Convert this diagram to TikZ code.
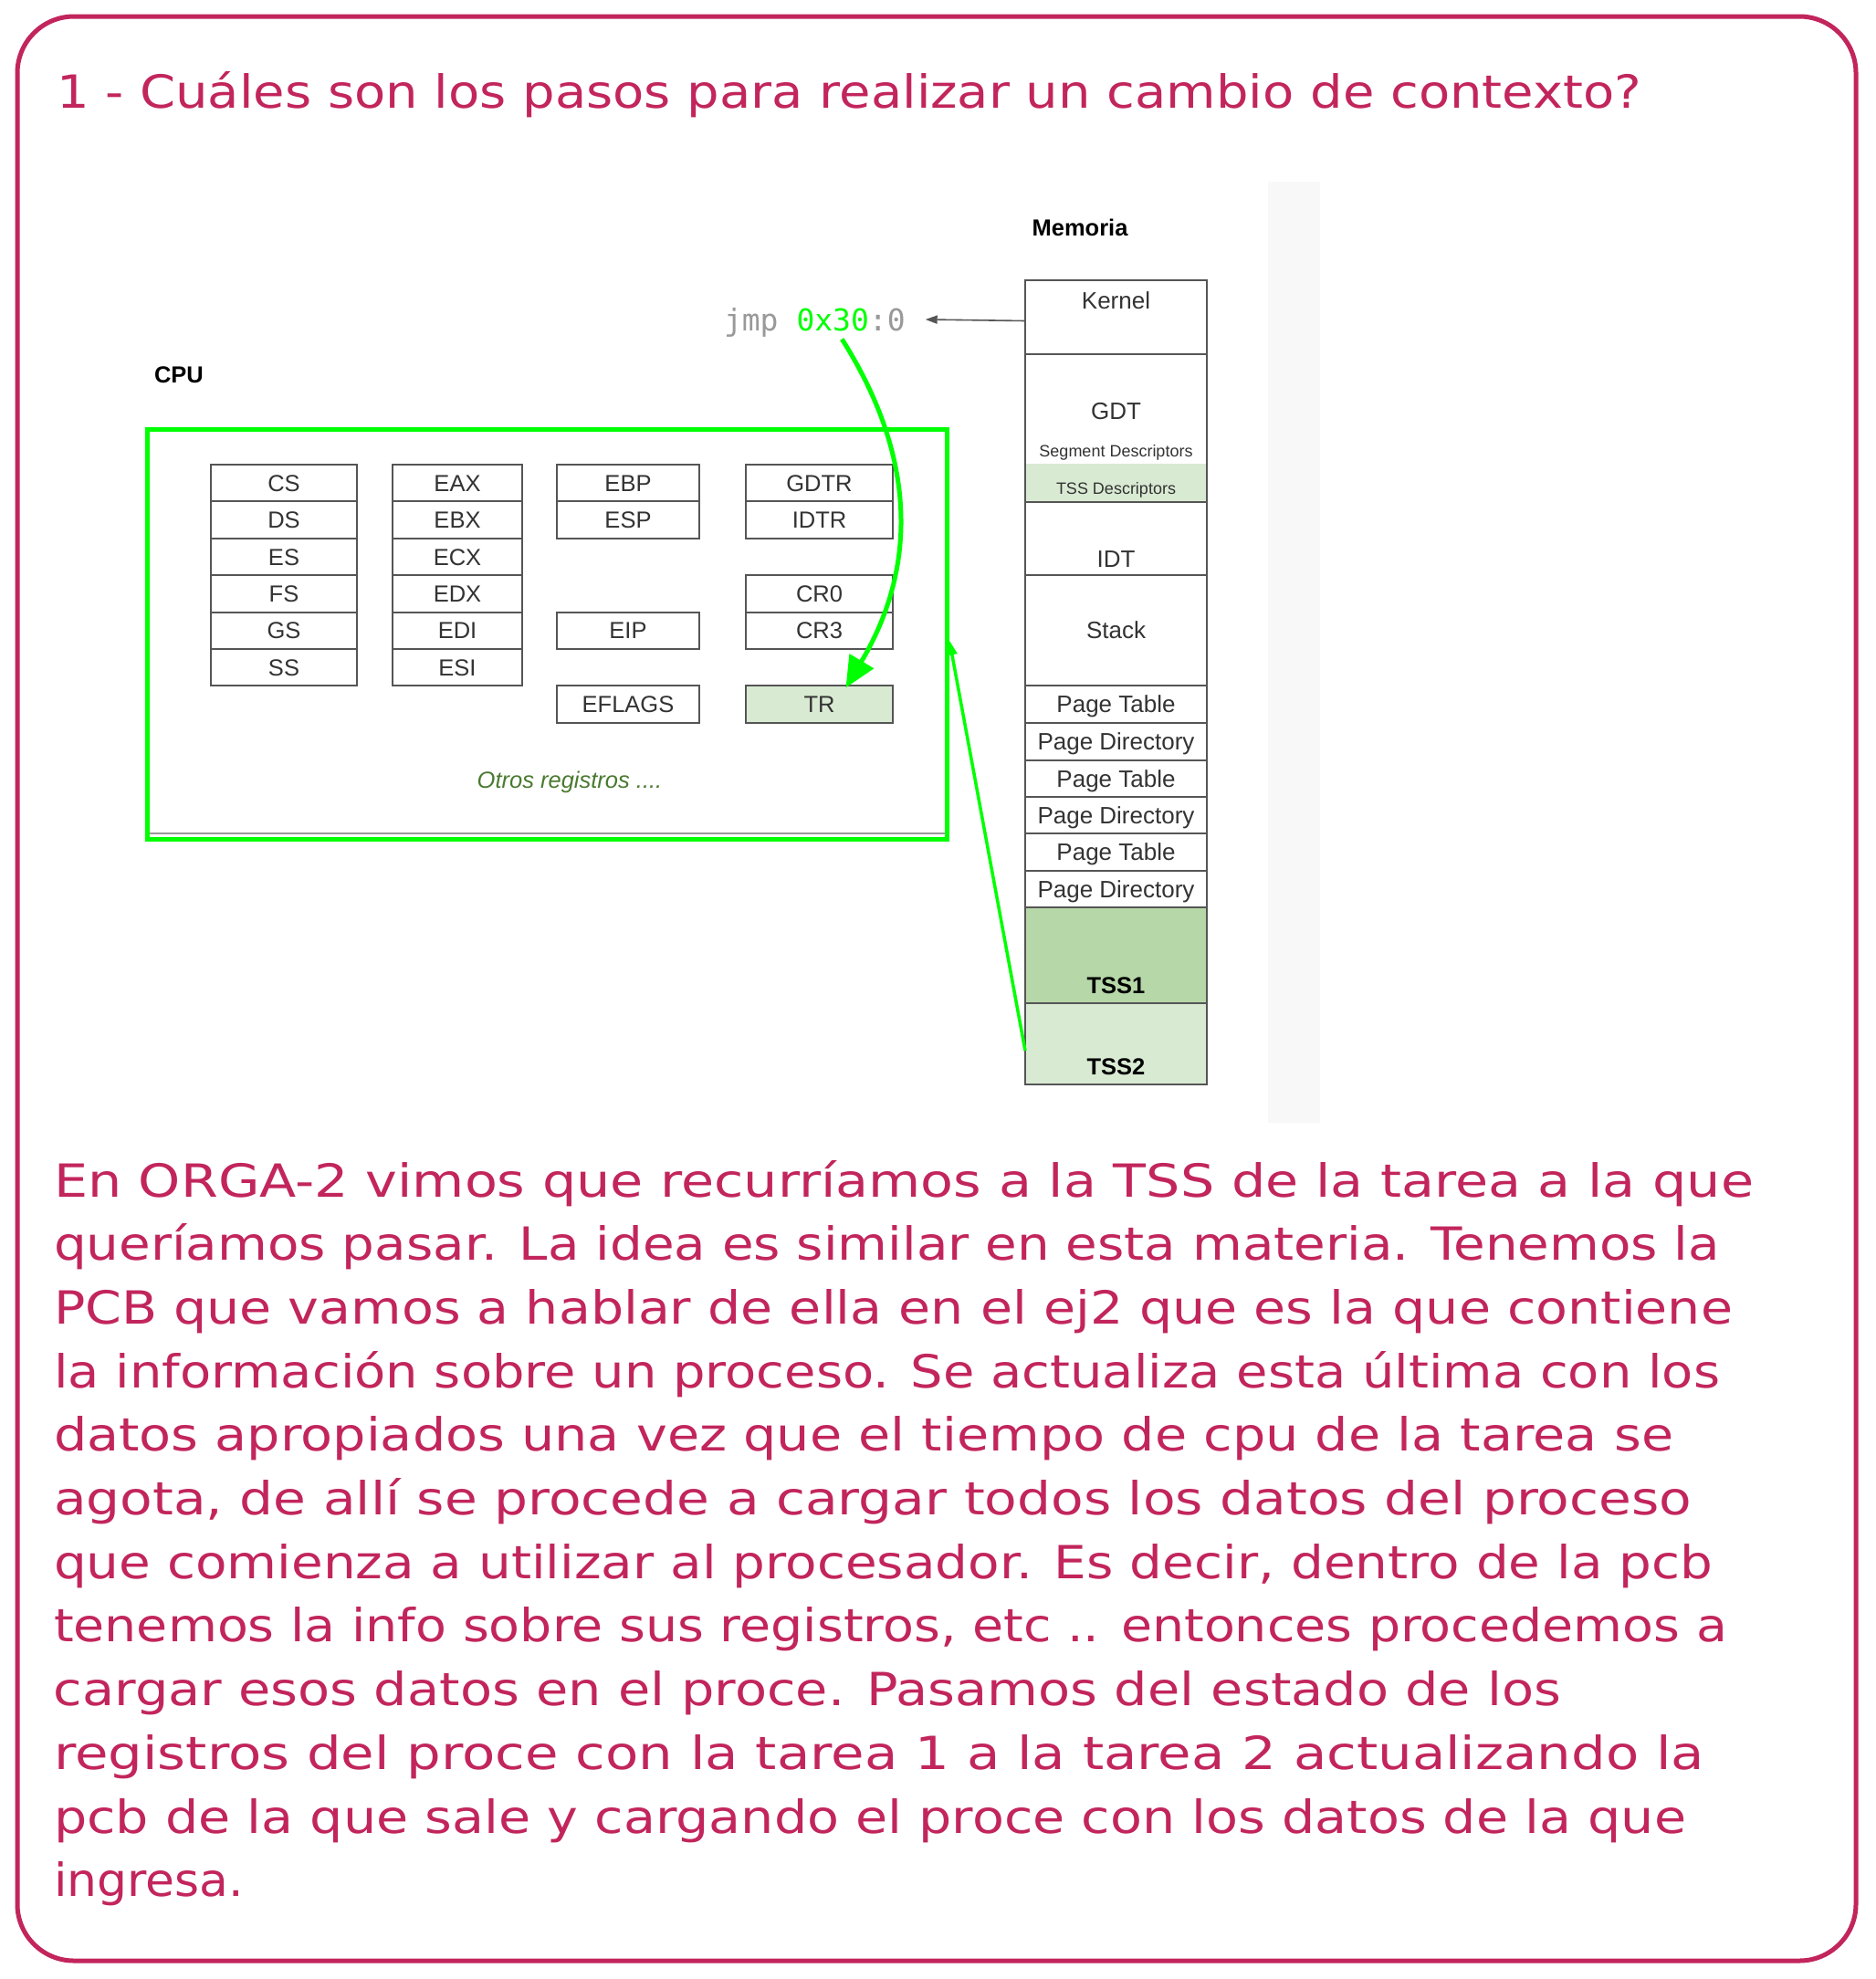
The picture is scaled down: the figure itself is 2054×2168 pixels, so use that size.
\documentclass[tikz,border=0pt]{standalone}
\usepackage{fontspec}
\usepackage{graphicx}
\usetikzlibrary{arrows.meta}
\newfontfamily\arialf{Liberation Sans}
\newfontfamily\monof{DejaVu Sans Mono}
\newfontfamily\handf{DejaVu Sans}
\definecolor{pinkc}{HTML}{C2255C}
\definecolor{limec}{HTML}{00FF00}
\definecolor{boxc}{HTML}{555555}
\definecolor{txtc}{HTML}{333333}
\definecolor{tssa}{HTML}{B6D7A8}
\definecolor{tssb}{HTML}{D9EAD3}
\definecolor{otrosc}{HTML}{4A7A30}
\definecolor{jmpc}{HTML}{999999}
\definecolor{colc}{HTML}{F8F8F8}
\newcommand\hfit[2]{\resizebox{#1pt}{\height}{#2}}
\begin{document}
\begin{tikzpicture}[x=1pt,y=-1pt,
  every node/.style={outer sep=0pt},
  reg/.style={draw=boxc, line width=2pt, minimum height=40.4pt, inner sep=0pt,
    font=\arialf\fontsize{25.5}{30}\selectfont, text=txtc, text height=18pt, text depth=0pt},
  regA/.style={reg, minimum width=160pt},
  regB/.style={reg, minimum width=142pt},
  regC/.style={reg, minimum width=156pt},
  regD/.style={reg, minimum width=161pt},
  mem/.style={draw=boxc, line width=2.5pt, minimum width=199pt, inner sep=0pt, text=txtc,
    font=\arialf\fontsize{26}{30}\selectfont, text height=18.6pt, text depth=0pt},
  memtxt/.style={inner sep=0pt, text=txtc, font=\arialf\fontsize{26}{30}\selectfont,
    text height=18.6pt, text depth=0pt},
  smalltxt/.style={inner sep=0pt, text=txtc, font=\arialf\fontsize{18}{22}\selectfont,
    text height=13pt, text depth=0pt},
  boldtxt/.style={inner sep=0pt, text=black, font=\arialf\bfseries\fontsize{25.5}{30}\selectfont},
  monotxt/.style={inner sep=0pt, font=\monof\fontsize{33}{40}\selectfont},
  handtxt/.style={inner sep=0pt, text=pinkc, font=\handf\fontsize{50}{60}\selectfont, anchor=base west},
]
\useasboundingbox (0,0) rectangle (2054,2168);
\fill[white] (0,0) rectangle (2054,2168);

% outer frame
\draw[pinkc, line width=5pt, rounded corners=62pt] (19,18) rectangle (2033,2148);

% title
\node[handtxt] (title) at (62,118) {\hfit{1736}{1 - Cuáles son los pasos para realizar un cambio de contexto?}};

% light column of the embedded picture
\fill[colc] (1389,199) rectangle (1446,1230);

% labels
\node[boldtxt, anchor=base west] (cpulabel) at (169,419) {CPU};
\node[boldtxt, anchor=base] (memlabel) at (1183,258) {Memoria};

% CPU box
\draw[jmpc, line width=2.5pt] (164,913) -- (1035,913);
\node[draw=limec, line width=5pt, minimum width=875.8pt, minimum height=449pt, inner sep=0pt] (cpu) at (599.6,694.5) {};

% registers
\node[regA] (cs) at (311,529.2) {CS};
\node[regA] (ds) at (311,569.6) {DS};
\node[regA] (es) at (311,610) {ES};
\node[regA] (fs) at (311,650.4) {FS};
\node[regA] (gs) at (311,690.8) {GS};
\node[regA] (ss) at (311,731.2) {SS};
\node[regB] (eax) at (501,529.2) {EAX};
\node[regB] (ebx) at (501,569.6) {EBX};
\node[regB] (ecx) at (501,610) {ECX};
\node[regB] (edx) at (501,650.4) {EDX};
\node[regB] (edi) at (501,690.8) {EDI};
\node[regB] (esi) at (501,731.2) {ESI};
\node[regC] (ebp) at (688,529.2) {EBP};
\node[regC] (esp) at (688,569.6) {ESP};
\node[regC] (eip) at (688,690.8) {EIP};
\node[regC] (eflags) at (688,771.6) {EFLAGS};
\node[regD] (gdtr) at (897.5,529.2) {GDTR};
\node[regD] (idtr) at (897.5,569.6) {IDTR};
\node[regD] (cr0) at (897.5,650.4) {CR0};
\node[regD] (cr3) at (897.5,690.8) {CR3};
\node[regD, fill=tssb] (tr) at (897.5,771.6) {TR};

\node[inner sep=0pt, text=otrosc, font=\arialf\itshape\fontsize{25.5}{30}\selectfont, anchor=base] (otros) at (624,863) {Otros registros ....};

% memory column
\fill[tssb] (1123,508) rectangle (1322,550);
\node[mem, minimum height=81pt] (kernel) at (1222.5,347.5) {};
\node[mem, minimum height=162pt] (gdt) at (1222.5,469) {};
\node[mem, minimum height=80pt] (idt) at (1222.5,590) {};
\node[mem, minimum height=121pt] (stack) at (1222.5,690.5) {Stack};
\node[mem, minimum height=41pt] (pt1) at (1222.5,771.5) {Page Table};
\node[mem, minimum height=41pt] (pd1) at (1222.5,812.5) {Page Directory};
\node[mem, minimum height=40pt] (pt2) at (1222.5,853) {Page Table};
\node[mem, minimum height=40pt] (pd2) at (1222.5,893) {Page Directory};
\node[mem, minimum height=41pt] (pt3) at (1222.5,933.5) {Page Table};
\node[mem, minimum height=40pt] (pd3) at (1222.5,974) {Page Directory};
\node[mem, minimum height=105pt, fill=tssa] (tss1) at (1222.5,1046.5) {};
\node[mem, minimum height=89pt, fill=tssb] (tss2) at (1222.5,1143.5) {};

\node[memtxt] (kerneltxt) at (1222.5,329) {Kernel};
\node[memtxt] (gdttxt) at (1222.5,450) {GDT};
\node[smalltxt] (segtxt) at (1222.5,494) {Segment Descriptors};
\node[smalltxt] (tssdtxt) at (1222.5,535) {TSS Descriptors};
\node[memtxt] (idttxt) at (1222.5,612) {IDT};
\node[memtxt, font=\arialf\bfseries\fontsize{25.5}{30}\selectfont, text=black] (tss1txt) at (1222.5,1079) {TSS1};
\node[memtxt, font=\arialf\bfseries\fontsize{25.5}{30}\selectfont, text=black] (tss2txt) at (1222.5,1168) {TSS2};

% jmp instruction
\node[monotxt, text=jmpc, anchor=base west] (jmpa) at (793,362) {jmp};
\node[monotxt, text=limec, anchor=base west] (hex) at ([xshift=19.9pt]jmpa.base east) {0x30};
\node[monotxt, text=jmpc, anchor=base west] (jmpb) at (hex.base east) {:0};

% connectors
\draw[boxc, line width=1.6pt, -{Triangle[length=13pt,width=9pt]}] ([yshift=-4pt]kernel.west) -- ([xshift=22pt]jmpb.east);
\draw[limec, line width=5pt, -{Triangle[length=34pt,width=30pt]}] ([xshift=10pt,yshift=-9pt]hex.south) .. controls (1010,510) and (1000,630) .. ([xshift=29pt,yshift=-2pt]tr.north);
\draw[limec, line width=3.5pt, -{Triangle[length=16pt,width=11pt]}] ([yshift=-7.5pt]tss2.west) -- ([xshift=2.5pt,yshift=-7pt]cpu.east);

% answer text
\node[handtxt] (l1) at (59,1311) {\hfit{1862}{En ORGA-2 vimos que recurríamos a la TSS de la tarea a la que}};
\node[handtxt] (l2) at (59,1380.7) {\hfit{1825}{queríamos pasar. La idea es similar en esta materia. Tenemos la}};
\node[handtxt] (l3) at (59,1450.4) {\hfit{1839}{PCB que vamos a hablar de ella en el ej2 que es la que contiene}};
\node[handtxt] (l4) at (59,1520.1) {\hfit{1825}{la información sobre un proceso. Se actualiza esta última con los}};
\node[handtxt] (l5) at (59,1589.8) {\hfit{1774}{datos apropiados una vez que el tiempo de cpu de la tarea se}};
\node[handtxt] (l6) at (59,1659.5) {\hfit{1794}{agota, de allí se procede a cargar todos los datos del proceso}};
\node[handtxt] (l7) at (59,1729.2) {\hfit{1817}{que comienza a utilizar al procesador. Es decir, dentro de la pcb}};
\node[handtxt] (l8) at (59,1798.9) {\hfit{1833}{tenemos la info sobre sus registros, etc .. entonces procedemos a}};
\node[handtxt] (l9) at (59,1868.6) {\hfit{1651}{cargar esos datos en el proce. Pasamos del estado de los}};
\node[handtxt] (l10) at (59,1938.3) {\hfit{1808}{registros del proce con la tarea 1 a la tarea 2 actualizando la}};
\node[handtxt] (l11) at (59,2008) {\hfit{1788}{pcb de la que sale y cargando el proce con los datos de la que}};
\node[handtxt] (l12) at (59,2077.7) {\hfit{208}{ingresa.}};
\end{tikzpicture}
\end{document}
